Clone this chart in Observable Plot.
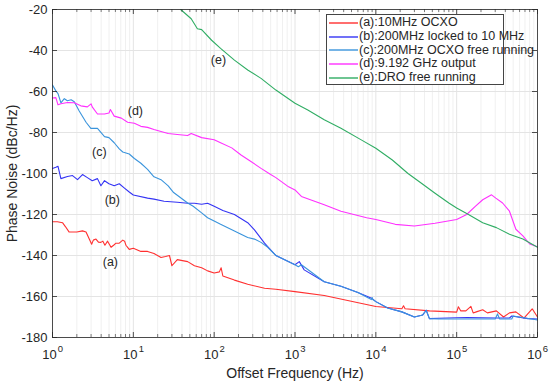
<!DOCTYPE html>
<html>
<head>
<meta charset="utf-8">
<script src="https://cdn.jsdelivr.net/npm/d3@7"></script>
<script src="https://cdn.jsdelivr.net/npm/@observablehq/plot@0.6"></script>
<style>
  html, body { margin: 0; padding: 0; background: #fff; }
  #chart { position: relative; width: 550px; height: 384px; }
  .legend { position: absolute; left: 326px; top: 14px; width: 178px; height: 71px; box-sizing: border-box;
            border: 1px solid #444; background: #fff; font: 12.5px "Liberation Sans", Arial, sans-serif; color: #262626; padding: 1px 0 0 2px; }
  .legend .row { height: 13.75px; line-height: 13.75px; white-space: nowrap; display: flex; align-items: center; }
  .legend svg { flex: none; margin-right: 1px; }
</style>
</head>
<body>
<div id="chart"></div>
<script>
// ---- data ----
const seriesNames = ["(a):10MHz OCXO", "(b):200MHz locked to 10 MHz", "(c):200MHz OCXO free running", "(d):9.192 GHz output", "(e):DRO free running"];
const seriesColors = ["#ff3030", "#3434f4", "#3a94dc", "#ff30ff", "#30ad64"];

const freqA = [1, 1.15, 1.33, 1.45, 1.6, 2.0, 2.35, 2.6, 2.85, 3.05, 3.2, 3.45, 3.7, 3.97, 4.2, 4.45, 4.8, 5.3, 5.7, 6.1, 6.7, 7.4, 7.8, 8.1, 8.5, 8.9, 10, 12.4, 15, 18, 22, 25, 28, 30, 35, 47, 57, 70, 83, 100, 116, 122, 128, 178, 260, 420, 580, 1000, 2300, 10000, 21000, 22000, 23000, 46000, 100000, 105000, 112000, 130000, 150000, 160000, 175000, 210000, 240000, 310000, 380000, 450000, 540000, 680000, 860000, 1000000];
const noiseA = [-123.5, -123.5, -124, -126, -128.5, -128.5, -128, -128.5, -132, -134.5, -132.5, -132, -133.5, -133.6, -133, -135, -133, -136, -135, -134, -134, -132.5, -133, -135, -136, -137, -136.5, -138, -138, -139, -141, -140.5, -140, -145, -142, -143, -145, -146, -147.5, -148.5, -148, -146, -150, -152, -154, -156, -156.5, -157.6, -159.5, -164.9, -166, -164.5, -166, -167, -167.6, -165, -167, -167, -164.8, -168, -167.5, -166.5, -168, -167, -170, -168, -167.5, -170.5, -166, -170];

const freqB = [1, 1.1, 1.17, 1.27, 1.53, 1.77, 2.04, 2.35, 2.7, 3.1, 3.6, 3.97, 4.4, 5, 5.8, 6.7, 7.7, 8.9, 10, 15, 18, 24, 35, 47, 57, 70, 83, 100, 128, 178, 260, 315, 420, 580, 1000, 1130, 1300, 2300, 3700, 6000, 9000, 10000, 14000, 21000, 30000, 38000, 42000, 46000, 60000, 100000, 135000, 310000, 450000, 480000, 760000, 1000000];
const noiseB = [-97.6, -97, -96.5, -102.5, -101.5, -101, -103, -100.5, -102, -103.5, -102.5, -106, -103.5, -105, -106, -105, -107, -109, -110.5, -112, -112.5, -113.5, -114, -114.5, -114.5, -115, -114.5, -116, -118, -120, -124, -127.5, -134, -140, -144.5, -143, -147, -152.8, -155, -158, -161, -162.5, -165.6, -167.5, -170, -169, -166.7, -170.8, -170.6, -170.4, -170.3, -170.5, -170.5, -169.5, -170.8, -171];

const freqC = [1, 1.1, 1.17, 1.27, 1.4, 1.53, 1.7, 1.86, 2.14, 2.6, 2.98, 3.6, 4.4, 5, 5.8, 6.7, 7.4, 8.9, 10.3, 12.4, 15, 18, 22, 27, 31.5, 47, 55, 70, 83, 100, 120, 178, 215, 260, 315, 380, 460, 580, 1000, 1100, 1200, 2300, 3700, 6000, 8800, 9000, 9200, 10000, 14000, 21000, 30000, 38000, 42000, 46000, 60000, 100000, 300000, 320000, 340000, 480000, 500000, 1000000];
const noiseC = [-56.8, -59.7, -61, -65.5, -63.5, -64.5, -64, -65, -69.5, -75, -78, -78, -82, -82.5, -85, -88, -89.5, -90.5, -92.7, -95, -98, -101.6, -103, -106, -109.3, -114.4, -116, -119.2, -121.6, -123.2, -124.8, -128, -129.6, -131.2, -132, -133.6, -136, -140, -144.5, -145.5, -144.5, -152.8, -155, -158, -161.5, -160.5, -161.5, -162.5, -165.6, -167.5, -170, -169, -166.7, -170.8, -171, -171, -171, -168.5, -171, -171, -169.5, -171.5];

const freqD = [1, 1.1, 1.17, 1.27, 1.53, 1.86, 2.24, 2.7, 3.0, 3.1, 3.6, 4.4, 5, 5.2, 5.8, 7.1, 8.5, 10.3, 12.4, 15, 18, 22, 27, 35, 47, 52, 70, 100, 120, 165, 215, 270, 380, 500, 580, 834, 1000, 1200, 2300, 3700, 7700, 10000, 17400, 30000, 54000, 100000, 133000, 170000, 210000, 270000, 305000, 370000, 450000, 540000, 660000, 800000, 1000000];
const noiseD = [-63.2, -63, -66.5, -66, -65.4, -65.5, -67, -67.5, -66, -67.5, -71, -71, -70.5, -68.8, -72, -73, -75, -75.5, -77, -77.5, -78.5, -79.5, -80.5, -81, -81.5, -80.5, -82.5, -83.5, -85, -87.5, -91, -93.5, -97.5, -100.5, -102, -106.5, -108, -111.2, -115.2, -118.4, -121.6, -122.4, -124.8, -125.6, -124.3, -122.4, -120, -116, -112.8, -110.4, -112, -114.4, -118.4, -127.2, -130.4, -134.4, -135.7];

const freqE = [38.5, 52, 62, 70, 93, 120, 178, 260, 380, 580, 1000, 1440, 2300, 3700, 6600, 10000, 16000, 25000, 37000, 54000, 80000, 100000, 140000, 210000, 310000, 450000, 660000, 1000000];
const noiseE = [-20, -24.5, -29.4, -29.8, -35, -39, -44.7, -49.5, -53.6, -59.3, -65.7, -69, -73.8, -77.9, -83.6, -87.7, -93.4, -100, -104.9, -109.6, -114.4, -116.8, -120, -124, -126.4, -129.6, -132, -136];

const labelText = ["(a)", "(b)", "(c)", "(d)", "(e)"];
const labelFreq = [5.2, 5.5, 3.8, 10.6, 113];
const labelNoise = [-143, -112.7, -89.3, -69.3, -44.4];

const yTicks = [-180, -160, -140, -120, -100, -80, -60, -40, -20];
const xMajor = [1, 10, 100, 1000, 10000, 100000, 1000000];
const xExponents = ["0", "1", "2", "3", "4", "5", "6"];
const xTitle = "Offset Frequency (Hz)";
const yTitle = "Phase Noise (dBc/Hz)";

// ---- build ----
const freqs = [freqA, freqB, freqC, freqD, freqE];
const noises = [noiseA, noiseB, noiseC, noiseD, noiseE];
const rows = [];
freqs.forEach((fs, i) => fs.forEach((f, j) => rows.push({series: seriesNames[i], f, v: noises[i][j]})));
const labels = labelText.map((t, i) => ({t, f: labelFreq[i], v: labelNoise[i]}));

const xMinor = [];
for (let e = 0; e < 6; e++) for (let k = 2; k <= 9; k++) xMinor.push(k * 10 ** e);

const W = 550, H = 384, mL = 52, mR = 13, mT = 9, mB = 47;
const innerW = W - mL - mR, innerH = H - mT - mB;
const axisColor = "#262626";
const gridColor = "#e4e4e4";

const chart = Plot.plot({
  width: W, height: H,
  marginLeft: mL, marginRight: mR, marginTop: mT, marginBottom: mB,
  style: {fontFamily: "'Liberation Sans', Arial, sans-serif", background: "#fff"},
  x: {type: "log", domain: [1, 1e6], axis: null},
  y: {domain: [-180, -20], axis: null},
  color: {domain: seriesNames, range: seriesColors},
  marks: [
    // grid
    Plot.ruleX(xMinor, {x: d => d, stroke: "#f0f0f0", strokeWidth: 1}),
    Plot.ruleX(xMajor, {x: d => d, stroke: gridColor, strokeWidth: 1}),
    Plot.ruleY(yTicks, {y: d => d, stroke: gridColor, strokeWidth: 1}),
    // data
    Plot.line(rows, {x: "f", y: "v", z: "series", stroke: "series", strokeWidth: 1.1, curve: "linear"}),
    // curve labels
    Plot.text(labels, {x: "f", y: "v", text: "t", fontSize: 12.5, fill: "#262626"}),
    // frame
    Plot.frame({stroke: axisColor, strokeWidth: 0.8}),
    // x ticks (inward, bottom and top)
    Plot.ruleX(xMajor, {x: d => d, insetTop: innerH - 5, stroke: axisColor, strokeWidth: 0.8}),
    Plot.ruleX(xMajor, {x: d => d, insetBottom: innerH - 5, stroke: axisColor, strokeWidth: 0.8}),
    Plot.ruleX(xMinor, {x: d => d, insetTop: innerH - 3, stroke: axisColor, strokeWidth: 0.6}),
    Plot.ruleX(xMinor, {x: d => d, insetBottom: innerH - 3, stroke: axisColor, strokeWidth: 0.6}),
    // y ticks (inward, left and right)
    Plot.ruleY(yTicks, {y: d => d, insetRight: innerW - 5, stroke: axisColor, strokeWidth: 0.8}),
    Plot.ruleY(yTicks, {y: d => d, insetLeft: innerW - 5, stroke: axisColor, strokeWidth: 0.8}),
    // tick labels: "10" + superscript exponent
    Plot.text(xMajor, {x: d => d, y: -180, text: () => "10", dy: 17, dx: -3, fontSize: 13, fill: axisColor}),
    Plot.text(xMajor, {x: d => d, y: -180, text: (d, i) => xExponents[i], dy: 11, dx: 8, fontSize: 9.5, fill: axisColor}),
    Plot.text(yTicks, {y: d => d, x: 1, text: d => String(d), dx: -5, textAnchor: "end", fontSize: 13, fill: axisColor}),
    // axis titles
    Plot.text([xTitle], {x: 1000, y: -180, text: d => d, dy: 36, fontSize: 14, fill: axisColor}),
    Plot.text([yTitle], {x: 1, y: -100, text: d => d, dx: -40, rotate: -90, fontSize: 14, fill: axisColor})
  ]
});
const host = document.getElementById("chart");
host.appendChild(chart);

// legend (HTML overlay)
const NS = "http://www.w3.org/2000/svg";
const leg = document.createElement("div");
leg.className = "legend";
seriesNames.forEach((n, i) => {
  const row = document.createElement("div");
  row.className = "row";
  const sw = document.createElementNS(NS, "svg");
  sw.setAttribute("width", "29");
  sw.setAttribute("height", "6");
  const ln = document.createElementNS(NS, "line");
  ln.setAttribute("x1", "0"); ln.setAttribute("x2", "29");
  ln.setAttribute("y1", "3"); ln.setAttribute("y2", "3");
  ln.setAttribute("stroke", seriesColors[i]);
  ln.setAttribute("stroke-width", "1.4");
  sw.appendChild(ln);
  row.appendChild(sw);
  row.appendChild(document.createTextNode(n));
  leg.appendChild(row);
});
host.appendChild(leg);
</script>
</body>
</html>
